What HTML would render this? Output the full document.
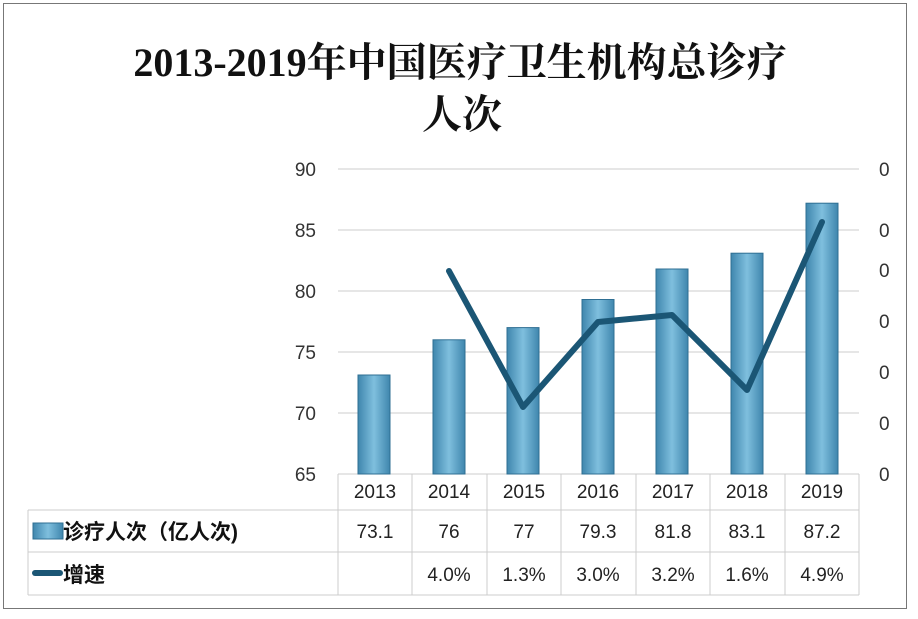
<!DOCTYPE html><html><head><meta charset="utf-8"><style>
body{margin:0;background:#fff;}
</style></head><body>
<svg width="918" height="614" xmlns="http://www.w3.org/2000/svg" font-family="'Liberation Sans','Noto Sans CJK SC',sans-serif">
<defs><linearGradient id="g" x1="0" x2="1"><stop offset="0" stop-color="#3f86ad"/><stop offset="0.5" stop-color="#7fbfde"/><stop offset="1" stop-color="#3f86ad"/></linearGradient></defs>
<rect x="3.5" y="3.5" width="903" height="605" fill="#fff" stroke="#777"/>
<text x="460" y="76" text-anchor="middle" font-size="40" font-weight="bold" font-family="'Liberation Serif','Noto Serif CJK SC',serif" fill="#111">2013-2019年中国医疗卫生机构总诊疗</text>
<text x="462" y="128" text-anchor="middle" font-size="40" font-weight="bold" font-family="'Liberation Serif','Noto Serif CJK SC',serif" fill="#111">人次</text>
<g stroke="#ccc" stroke-width="1">
<line x1="338" x2="859" y1="169" y2="169"/><line x1="338" x2="859" y1="230" y2="230"/><line x1="338" x2="859" y1="291" y2="291"/><line x1="338" x2="859" y1="352" y2="352"/><line x1="338" x2="859" y1="413" y2="413"/><line x1="338" x2="859" y1="474" y2="474"/>
</g>
<g font-size="19" fill="#333" text-anchor="end">
<text x="316" y="176">90</text><text x="316" y="237">85</text><text x="316" y="298">80</text><text x="316" y="359">75</text><text x="316" y="420">70</text><text x="316" y="481">65</text>
</g>
<g font-size="19" fill="#333">
<text x="879" y="176">0</text><text x="879" y="237">0</text><text x="879" y="277">0</text><text x="879" y="328">0</text><text x="879" y="379">0</text><text x="879" y="430">0</text><text x="879" y="481">0</text>
</g>
<g fill="url(#g)" stroke="#2f6f93" stroke-width="1">
<rect x="358" y="375" width="32" height="99"/>
<rect x="433" y="339.8" width="32" height="134.2"/>
<rect x="507" y="327.6" width="32" height="146.4"/>
<rect x="582" y="299.5" width="32" height="174.5"/>
<rect x="656" y="269" width="32" height="205"/>
<rect x="731" y="253.2" width="32" height="220.8"/>
<rect x="806" y="203.2" width="32" height="270.8"/>
</g>
<polyline points="449,271 523,407 598,322 672,315 747,390 822,222" fill="none" stroke="#1b5675" stroke-width="6" stroke-linejoin="round" stroke-linecap="round"/>
<g stroke="#ccc" fill="none">
<line x1="338" x2="338" y1="474" y2="595"/>
<line x1="28" x2="859" y1="510" y2="510"/><line x1="28" x2="859" y1="552" y2="552"/><line x1="28" x2="859" y1="595" y2="595"/>
<line x1="28" x2="28" y1="510" y2="595"/>
<line x1="412" x2="412" y1="474" y2="595"/><line x1="487" x2="487" y1="474" y2="595"/><line x1="561" x2="561" y1="474" y2="595"/><line x1="636" x2="636" y1="474" y2="595"/><line x1="710" x2="710" y1="474" y2="595"/><line x1="785" x2="785" y1="474" y2="595"/><line x1="859" x2="859" y1="474" y2="595"/>
</g>
<g font-size="19" fill="#222" text-anchor="middle">
<text x="375" y="498">2013</text><text x="449" y="498">2014</text><text x="524" y="498">2015</text><text x="598" y="498">2016</text><text x="673" y="498">2017</text><text x="747" y="498">2018</text><text x="822" y="498">2019</text>
<text x="375" y="538">73.1</text><text x="449" y="538">76</text><text x="524" y="538">77</text><text x="598" y="538">79.3</text><text x="673" y="538">81.8</text><text x="747" y="538">83.1</text><text x="822" y="538">87.2</text>
<text x="449" y="581">4.0%</text><text x="524" y="581">1.3%</text><text x="598" y="581">3.0%</text><text x="673" y="581">3.2%</text><text x="747" y="581">1.6%</text><text x="822" y="581">4.9%</text>
</g>
<rect x="33" y="523" width="30" height="16" fill="url(#g)" stroke="#2f6f93"/>
<line x1="35" x2="60" y1="573" y2="573" stroke="#1b5675" stroke-width="6" stroke-linecap="round"/>
<g font-size="21" fill="#111" font-weight="bold">
<text x="63" y="539">诊疗人次（亿人次)</text>
<text x="63" y="582">增速</text>
</g>
</svg>
</body></html>
